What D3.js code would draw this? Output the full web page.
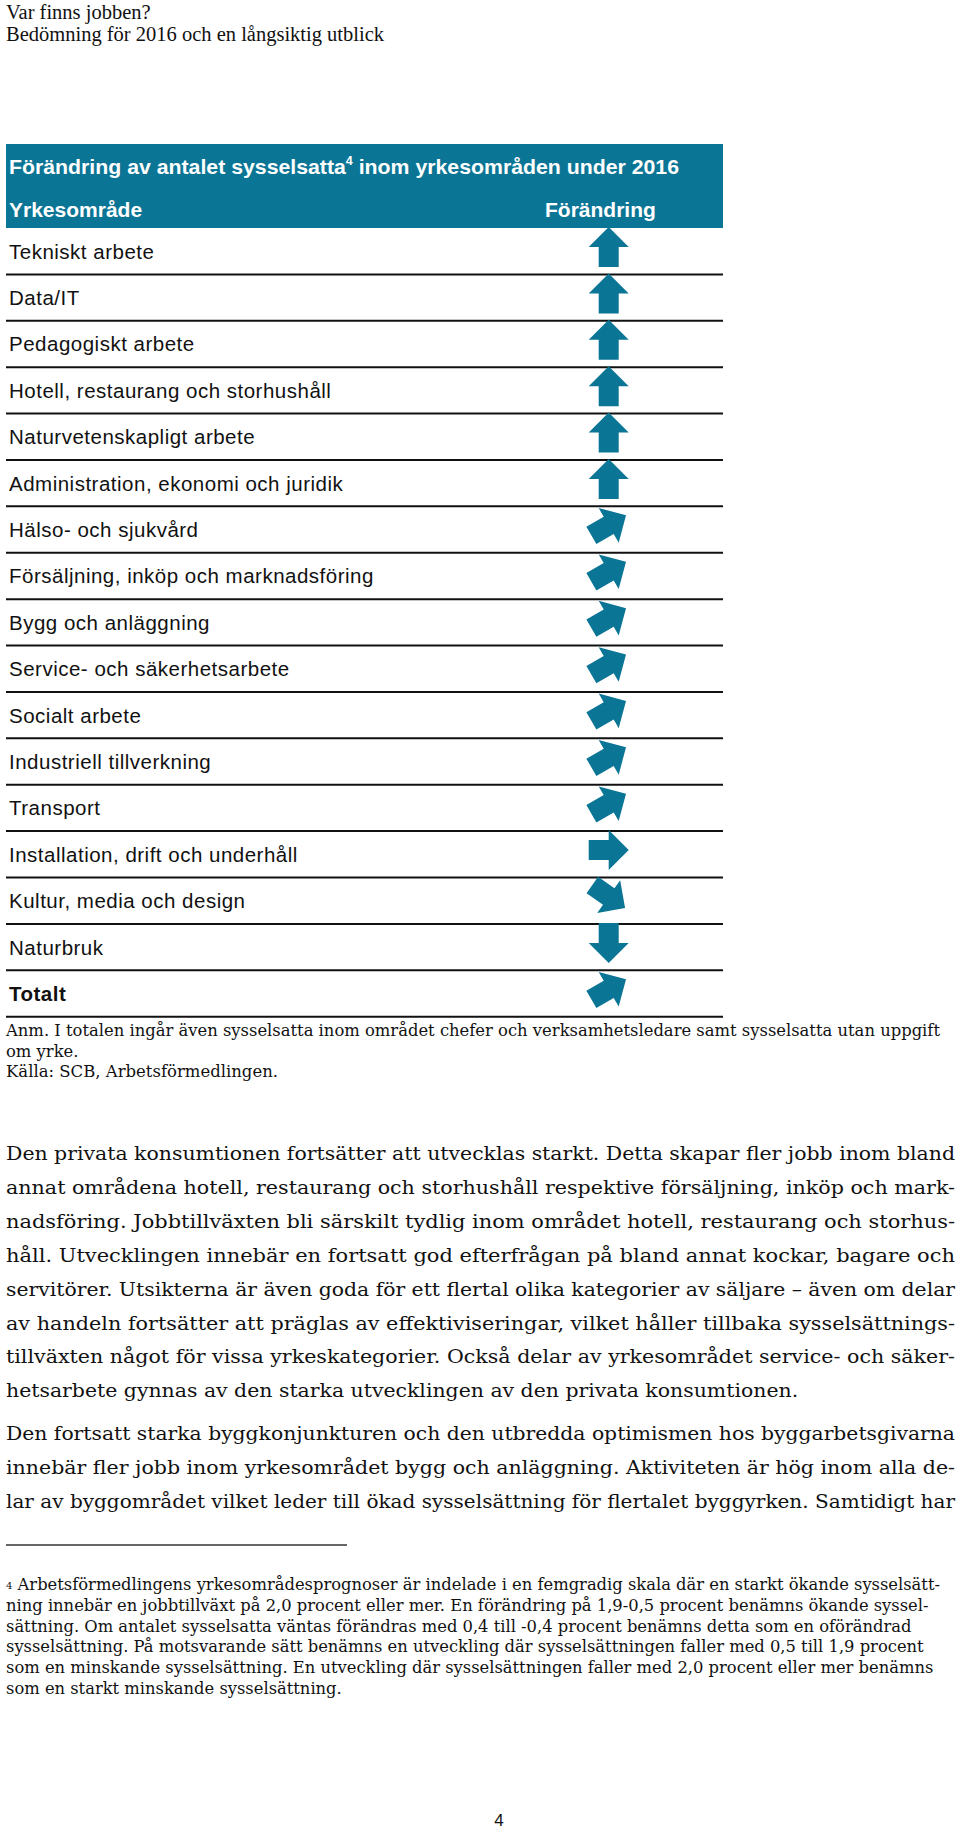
<!DOCTYPE html>
<html>
<head>
<meta charset="utf-8">
<script src="https://cdn.jsdelivr.net/npm/d3@7/dist/d3.min.js"></script>
<style>
  html, body { margin: 0; padding: 0; background: #ffffff; }
  svg { display: block; }
</style>
</head>
<body>
<svg id="page" width="960" height="1832"></svg>
<script>
// ---------------- DATA ----------------
const pageTitle = ["Var finns jobben?", "Bedömning för 2016 och en långsiktig utblick"];
const tableTitleMain = "Förändring av antalet sysselsatta";
const tableTitleSup = "4";
const tableTitleRest = " inom yrkesområden under 2016";
const columnHeaders = ["Yrkesområde", "Förändring"];

const categories = [
  "Tekniskt arbete",
  "Data/IT",
  "Pedagogiskt arbete",
  "Hotell, restaurang och storhushåll",
  "Naturvetenskapligt arbete",
  "Administration, ekonomi och juridik",
  "Hälso- och sjukvård",
  "Försäljning, inköp och marknadsföring",
  "Bygg och anläggning",
  "Service- och säkerhetsarbete",
  "Socialt arbete",
  "Industriell tillverkning",
  "Transport",
  "Installation, drift och underhåll",
  "Kultur, media och design",
  "Naturbruk",
  "Totalt"
];
// 2 = starkt ökande, 1 = ökande, 0 = oförändrad, -1 = minskande, -2 = starkt minskande
const changeLevel = [2, 2, 2, 2, 2, 2, 1, 1, 1, 1, 1, 1, 1, 0, -1, -2, 1];
const changeLevels = [2, 1, 0, -1, -2];

const noteLines = [
  "Anm. I totalen ingår även sysselsatta inom området chefer och verksamhetsledare samt sysselsatta utan uppgift",
  "om yrke."
];
const sourceLine = "Källa: SCB, Arbetsförmedlingen.";

const paragraph1 = [
  "Den privata konsumtionen fortsätter att utvecklas starkt. Detta skapar fler jobb inom bland",
  "annat områdena hotell, restaurang och storhushåll respektive försäljning, inköp och mark-",
  "nadsföring. Jobbtillväxten bli särskilt tydlig inom området hotell, restaurang och storhus-",
  "håll. Utvecklingen innebär en fortsatt god efterfrågan på bland annat kockar, bagare och",
  "servitörer. Utsikterna är även goda för ett flertal olika kategorier av säljare – även om delar",
  "av handeln fortsätter att präglas av effektiviseringar, vilket håller tillbaka sysselsättnings-",
  "tillväxten något för vissa yrkeskategorier. Också delar av yrkesområdet service- och säker-",
  "hetsarbete gynnas av den starka utvecklingen av den privata konsumtionen."
];
const paragraph2 = [
  "Den fortsatt starka byggkonjunkturen och den utbredda optimismen hos byggarbetsgivarna",
  "innebär fler jobb inom yrkesområdet bygg och anläggning. Aktiviteten är hög inom alla de-",
  "lar av byggområdet vilket leder till ökad sysselsättning för flertalet byggyrken. Samtidigt har"
];

const footnoteMark = "4";
const footnoteLines = [
  " Arbetsförmedlingens yrkesområdesprognoser är indelade i en femgradig skala där en starkt ökande sysselsätt-",
  "ning innebär en jobbtillväxt på 2,0 procent eller mer. En förändring på 1,9-0,5 procent benämns ökande syssel-",
  "sättning. Om antalet sysselsatta väntas förändras med 0,4 till -0,4 procent benämns detta som en oförändrad",
  "sysselsättning. På motsvarande sätt benämns en utveckling där sysselsättningen faller med 0,5 till 1,9 procent",
  "som en minskande sysselsättning. En utveckling där sysselsättningen faller med 2,0 procent eller mer benämns",
  "som en starkt minskande sysselsättning."
];
const pageNumber = "4";

// ---------------- LAYOUT / STYLE ----------------
const BLUE = "#0b7596";
const SANS = "'Liberation Sans', Arial, sans-serif";
const SERIF = "'DejaVu Serif', Georgia, serif";
const TITLE_SERIF = "'Liberation Serif', 'Times New Roman', serif";

const svg = d3.select("#page");

const tableLeft = 6, tableRight = 723;
const headerTop = 144, headerBottom = 228;
const tableBottom = 1016.7;

// page titles
svg.selectAll("text.pt").data(pageTitle).join("text")
  .attr("class", "pt")
  .attr("x", 6)
  .attr("y", (d, i) => 19 + i * 22)
  .attr("font-family", TITLE_SERIF)
  .attr("font-size", 20.5)
  .attr("fill", "#111")
  .text(d => d);

// header box
svg.append("rect")
  .attr("x", tableLeft).attr("y", headerTop)
  .attr("width", tableRight - tableLeft).attr("height", headerBottom - headerTop)
  .attr("fill", BLUE);

const tt = svg.append("text")
  .attr("x", 9).attr("y", 174)
  .attr("font-family", SANS).attr("font-weight", "bold")
  .attr("font-size", 20.5).attr("fill", "#fff");
tt.append("tspan").text(tableTitleMain);
tt.append("tspan").attr("font-size", 12).attr("dy", -9).text(tableTitleSup);
tt.append("tspan").attr("dy", 9).text(tableTitleRest);
tt.attr("textLength", 670).attr("lengthAdjust", "spacingAndGlyphs");

svg.append("text")
  .attr("x", 9).attr("y", 217)
  .attr("font-family", SANS).attr("font-weight", "bold")
  .attr("font-size", 21).attr("fill", "#fff")
  .text(columnHeaders[0]);
svg.append("text")
  .attr("x", 545).attr("y", 217)
  .attr("font-family", SANS).attr("font-weight", "bold")
  .attr("font-size", 21).attr("fill", "#fff")
  .text(columnHeaders[1]);

// rows
const y = d3.scaleBand().domain(categories).range([headerBottom, tableBottom]).padding(0);
const bw = y.bandwidth();
const angle = d3.scaleOrdinal().domain(changeLevels).range([-90, -30, 0, 35, 90]);
const arrowX = 608.7;

const rows = svg.selectAll("g.row").data(categories.map((c, i) => ({c, v: changeLevel[i]})))
  .join("g").attr("class", "row");

rows.append("text")
  .attr("x", 9)
  .attr("y", d => y(d.c) + bw / 2 + 7.5)
  .attr("font-family", SANS)
  .attr("font-size", 20.5)
  .attr("letter-spacing", 0.5)
  .attr("font-weight", d => d.c === "Totalt" ? "bold" : "normal")
  .attr("fill", "#111")
  .text(d => d.c);

rows.append("line")
  .attr("x1", tableLeft).attr("x2", tableRight)
  .attr("y1", d => y(d.c) + bw).attr("y2", d => y(d.c) + bw)
  .attr("stroke", "#111").attr("stroke-width", 2);

const arrowPath = "M-20,-10 L0,-10 L0,-20 L20,0 L0,20 L0,10 L-20,10 Z";
rows.append("path")
  .attr("d", arrowPath)
  .attr("fill", BLUE)
  .attr("transform", d => `translate(${arrowX},${y(d.c) + bw / 2 - 4.2}) rotate(${angle(d.v)})`);

// ---------- text blocks ----------
function block(lines, opts) {
  const g = svg.append("g");
  const ts = g.selectAll("text").data(lines).join("text")
    .attr("x", opts.x)
    .attr("y", (d, i) => opts.y0 + i * opts.lh)
    .attr("font-family", opts.font)
    .attr("font-size", opts.size)
    .attr("fill", "#111")
    .text(d => d);
  const nat = ts.nodes().map(n => n.getComputedTextLength());
  const k = opts.width / nat[opts.refLine || 0];
  ts.each(function (d, i) {
    const justify = opts.justify && (opts.lastJustified || i < lines.length - 1);
    const len = justify ? opts.width : nat[i] * k;
    d3.select(this).attr("textLength", len).attr("lengthAdjust", "spacingAndGlyphs");
  });
  return ts;
}

// note and source
block(noteLines, {x: 6, y0: 1036, lh: 20.5, font: SERIF, size: 16.5, width: 934, justify: false});
block([sourceLine], {x: 6, y0: 1077, lh: 20, font: SERIF, size: 16.5, width: 272, justify: false});

// body paragraphs
block(paragraph1, {x: 6, y0: 1160, lh: 33.9, font: SERIF, size: 19.3, width: 949, justify: true});
block(paragraph2, {x: 6, y0: 1440, lh: 33.9, font: SERIF, size: 19.3, width: 949, justify: true, lastJustified: true});

// footnote separator
svg.append("line")
  .attr("x1", 6).attr("x2", 347)
  .attr("y1", 1545).attr("y2", 1545)
  .attr("stroke", "#333").attr("stroke-width", 1.5);

// footnote
const fg = svg.append("g");
const fts = fg.selectAll("text").data(footnoteLines).join("text")
  .attr("x", 6)
  .attr("y", (d, i) => 1590 + i * 20.8)
  .attr("font-family", SERIF)
  .attr("font-size", 16.3)
  .attr("fill", "#111");
fts.each(function (d, i) {
  const t = d3.select(this);
  if (i === 0) {
    t.append("tspan").attr("font-size", 10).attr("dy", -1).text(footnoteMark);
    t.append("tspan").attr("dy", 1).text(d);
  } else {
    t.text(d);
  }
});
const fnat = fts.nodes().map(n => n.getComputedTextLength());
const fk = 934 / fnat[0];
fts.each(function (d, i) {
  d3.select(this).attr("textLength", fnat[i] * fk).attr("lengthAdjust", "spacingAndGlyphs");
});

// page number
svg.append("text")
  .attr("x", 499).attr("y", 1826)
  .attr("text-anchor", "middle")
  .attr("font-family", SANS)
  .attr("font-size", 17)
  .attr("fill", "#111")
  .text(pageNumber);
</script>
</body>
</html>
